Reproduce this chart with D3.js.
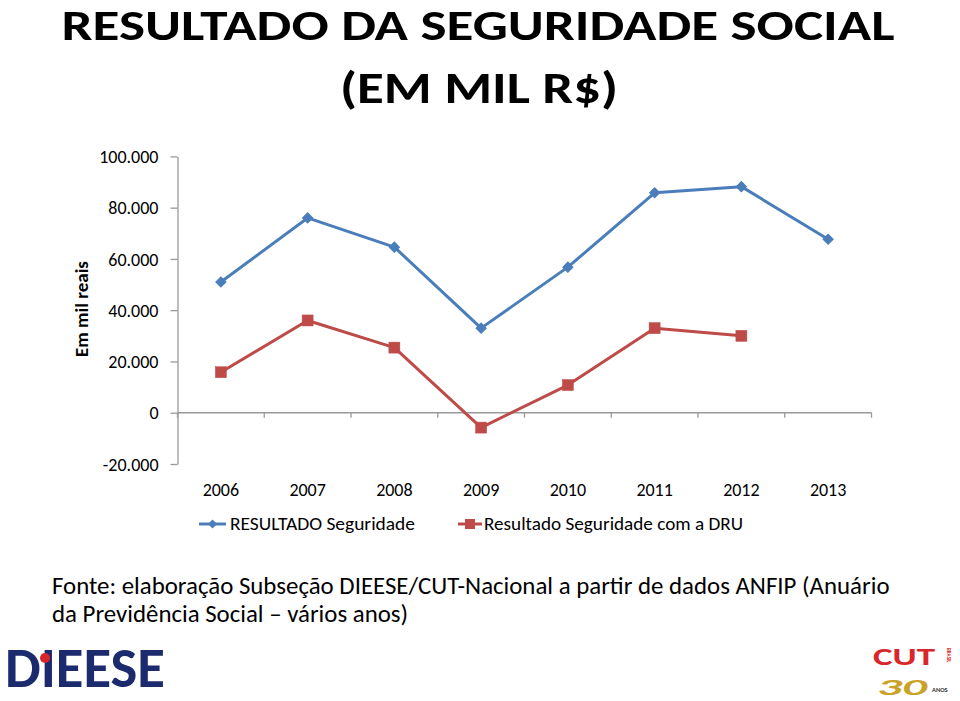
<!DOCTYPE html>
<html><head><meta charset="utf-8">
<script src="https://cdn.jsdelivr.net/npm/d3@7"></script>
<style>
html,body{margin:0;padding:0;background:#fff;}
svg{display:block;}
text{font-family:Carlito, Calibri, Lato, "Open Sans", sans-serif;}
</style></head>
<body>
<svg id="chart" width="960" height="701"></svg>
<script>
const years = ["2006","2007","2008","2009","2010","2011","2012","2013"];
const seriesNames = ["RESULTADO Seguridade", "Resultado Seguridade com a DRU"];
const resultado = [51000, 76000, 64600, 33000, 56800, 85800, 88200, 67700];
const resultadoDRU = [15800, 36000, 25400, -5800, 10800, 33000, 30000, null];
const yTicks = [-20000, 0, 20000, 40000, 60000, 80000, 100000];
const titleLines = ["RESULTADO DA SEGURIDADE SOCIAL", "(EM MIL R$)"];
const yTitle = "Em mil reais";
const sourceLines = ["Fonte: elaboração Subseção DIEESE/CUT-Nacional a partir de dados ANFIP (Anuário", "da Previdência Social – vários anos)"];

const svg = d3.select("#chart");
svg.append("rect").attr("width",960).attr("height",701).attr("fill","#fff");

const blue = "#4A7EBB", red = "#BE4B48", axisCol = "#9a9a9a";

function fitWidth(sel, target) {
  const n = sel.node();
  const fs = parseFloat(sel.attr("font-size"));
  const w = n.getComputedTextLength();
  if (w > 0) sel.attr("font-size", (fs * target / w).toFixed(2));
}
function stretch(sel, target) {
  sel.attr("textLength", target).attr("lengthAdjust", "spacingAndGlyphs");
}

// Title
const t1 = svg.append("text").attr("x", 478).attr("y", 40).attr("text-anchor","middle")
  .attr("font-size", 43).attr("font-weight","bold").attr("fill","#000").text(titleLines[0]);
stretch(t1, 833);
const t2 = svg.append("text").attr("x", 479).attr("y", 103).attr("text-anchor","middle")
  .attr("font-size", 44).attr("font-weight","bold").attr("fill","#000").text(titleLines[1]);
stretch(t2, 278);

// Scales
const x = d3.scaleBand().domain(years).range([177.5, 871.5]);
const y = d3.scaleLinear().domain([-20000, 100000]).range([464, 156.4]);

const loc = d3.formatLocale({decimal: ",", thousands: ".", grouping: [3], currency: ["R$ ", ""], minus: "-"});
const fmt = loc.format(",");

// Y axis
const yAxis = svg.append("g").attr("transform", "translate(177.5,0)")
  .call(d3.axisLeft(y).tickValues(yTicks).tickSize(7).tickSizeOuter(0).tickPadding(12).tickFormat(fmt));
yAxis.select(".domain").attr("stroke", axisCol).attr("stroke-width", 1.3);
yAxis.selectAll(".tick line").attr("stroke", axisCol).attr("stroke-width", 1.3);
yAxis.selectAll(".tick text").attr("font-size", 18).attr("fill", "#000")
  .attr("font-family", "Carlito, Calibri, Lato, sans-serif").attr("dy", "0.34em");

// Zero axis with category ticks
const xAxis = svg.append("g").attr("transform", `translate(0,${y(0)})`);
xAxis.append("line").attr("x1", x.range()[0]).attr("x2", x.range()[1]).attr("stroke", axisCol).attr("stroke-width", 1.3);
const bounds = years.map(d => x(d)).concat([x.range()[1]]);
xAxis.selectAll("line.tk").data(bounds).join("line").attr("class","tk")
  .attr("x1", d => d).attr("x2", d => d).attr("y1", 0).attr("y2", 5)
  .attr("stroke", axisCol).attr("stroke-width", 1.3);

// X labels (low position)
svg.selectAll("text.xl").data(years).join("text").attr("class","xl")
  .attr("x", d => x(d) + x.bandwidth()/2).attr("y", 496).attr("text-anchor","middle")
  .attr("font-size", 18).attr("fill","#000").text(d => d);

// Y title
svg.append("text").attr("transform", "translate(88,309) rotate(-90)").attr("text-anchor","middle")
  .attr("font-size", 19).attr("font-weight","bold").attr("fill","#000").text(yTitle);

// Lines
const cx = d => x(d) + x.bandwidth()/2;
const line = d3.line().defined(d => d.v != null).x(d => cx(d.year)).y(d => y(d.v));
const s1 = years.map((yr, i) => ({year: yr, v: resultado[i]}));
const s2 = years.map((yr, i) => ({year: yr, v: resultadoDRU[i]}));

svg.append("path").datum(s1).attr("d", line).attr("fill","none").attr("stroke", blue).attr("stroke-width", 3).attr("stroke-linejoin","round");
svg.append("path").datum(s2).attr("d", line).attr("fill","none").attr("stroke", red).attr("stroke-width", 3).attr("stroke-linejoin","round");

svg.selectAll("path.m1").data(s1.filter(d => d.v != null)).join("path").attr("class","m1")
  .attr("d", d3.symbol().type(d3.symbolSquare).size(52))
  .attr("transform", d => `translate(${cx(d.year)},${y(d.v)}) rotate(45)`)
  .attr("fill", blue).attr("stroke", blue).attr("stroke-width", 1);
svg.selectAll("rect.m2").data(s2.filter(d => d.v != null)).join("rect").attr("class","m2")
  .attr("x", d => cx(d.year) - 5.5).attr("y", d => y(d.v) - 5.5).attr("width", 11).attr("height", 11)
  .attr("fill", red).attr("stroke", red).attr("stroke-width", 0.5);

// Legend
const lg = svg.append("g");
lg.append("line").attr("x1", 199).attr("x2", 226).attr("y1", 524).attr("y2", 524).attr("stroke", blue).attr("stroke-width", 3);
lg.append("path").attr("d", d3.symbol().type(d3.symbolSquare).size(40)).attr("transform","translate(212.5,524) rotate(45)").attr("fill", blue);
const lt1 = lg.append("text").attr("x", 230).attr("y", 530).attr("font-size", 18).attr("fill","#000").text(seriesNames[0]);
stretch(lt1, 185);
lg.append("line").attr("x1", 458).attr("x2", 482).attr("y1", 524).attr("y2", 524).attr("stroke", red).attr("stroke-width", 3);
lg.append("rect").attr("x", 465).attr("y", 519).attr("width", 10).attr("height", 10).attr("fill", red);
const lt2 = lg.append("text").attr("x", 484).attr("y", 530).attr("font-size", 18).attr("fill","#000").text(seriesNames[1]);
stretch(lt2, 259);

// Source
const s1t = svg.append("text").attr("x", 52).attr("y", 594).attr("font-size", 21).attr("fill","#000").text(sourceLines[0]);
fitWidth(s1t, 838);
svg.append("text").attr("x", 52).attr("y", 622).attr("font-size", s1t.attr("font-size")).attr("fill","#000").text(sourceLines[1]);

// Logos (text approximations)
const dl = svg.append("g");
const dt = dl.append("text").attr("x", 5).attr("y", 687).attr("font-size", 44).attr("font-weight", 900)
  .attr("fill", "#1c2a6e").attr("font-family", "'DejaVu Sans Condensed', 'Liberation Sans Narrow', sans-serif")
  .text("DIEESE");
fitWidth(dt, 160);
dl.append("circle").attr("cx", 45).attr("cy", 658).attr("r", 5).attr("fill", "#d8262b");

const cl = svg.append("g");
const cut = cl.append("text").attr("x", 873).attr("y", 665).attr("font-size", 24).attr("font-weight", 900)
  .attr("fill", "#d8262b").attr("font-family", "'DejaVu Sans Condensed', sans-serif").text("CUT");
stretch(cut, 62);
const thirty = cl.append("text").attr("x", 877).attr("y", 695).attr("font-size", 22).attr("font-weight", 900).attr("font-style","italic")
  .attr("fill", "#c9a227").attr("font-family", "'DejaVu Sans Condensed', sans-serif").text("30");
stretch(thirty, 50);
cl.append("text").attr("x", 932).attr("y", 692).attr("font-size", 6.5).attr("font-weight", "bold")
  .attr("fill", "#333").text("ANOS");
cl.append("text").attr("transform", "translate(947,648) rotate(90)").attr("font-size", 5).attr("font-weight","bold")
  .attr("fill", "#d8262b").text("BRASIL");
</script>
</body></html>
